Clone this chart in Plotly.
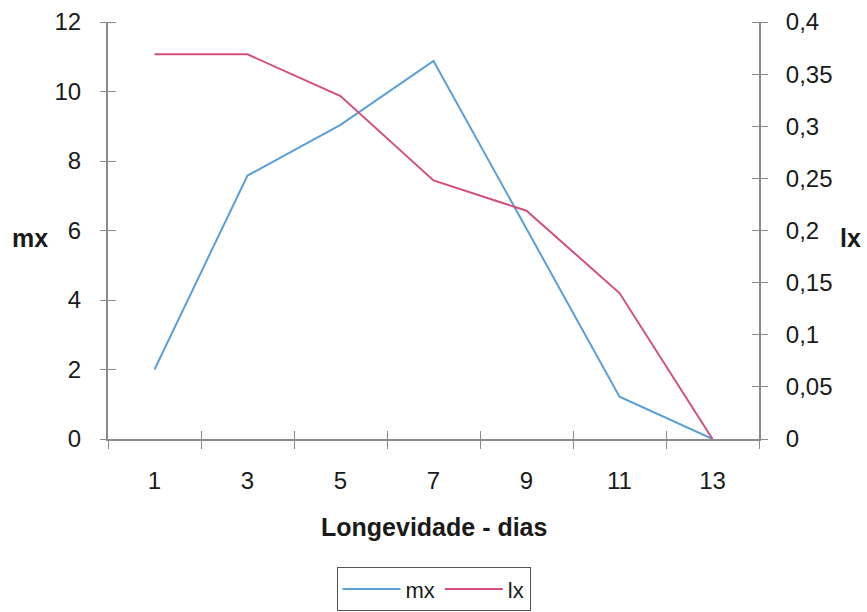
import plotly.graph_objects as go

dias = ["1", "3", "5", "7", "9", "11", "13"]
mx = [2.0, 7.58, 9.04, 10.88, 6.05, 1.22, 0.0]
lx = [0.369, 0.369, 0.329, 0.248, 0.219, 0.140, 0.0]

blue = "#5a9fd8"
red = "#d4507c"
axc = "#8a8a8a"
font = "Liberation Sans, Arial, sans-serif"

PLOT_W = 867 - 108 - 108
half = 8 / PLOT_W  # half tick length in paper units (ticks cross the axis)

fig = go.Figure()
fig.add_trace(go.Scatter(x=dias, y=mx, mode="lines", name="mx",
                         line=dict(color=blue, width=2), xaxis="x", yaxis="y"))
fig.add_trace(go.Scatter(x=dias, y=lx, mode="lines", name="lx",
                         line=dict(color=red, width=2), xaxis="x", yaxis="y2"))
# invisible traces to activate the helper axes
fig.add_trace(go.Scatter(x=dias, y=mx, mode="lines", line=dict(width=0), opacity=0,
                         showlegend=False, hoverinfo="skip", xaxis="x2", yaxis="y"))
fig.add_trace(go.Scatter(x=dias, y=mx, mode="lines", line=dict(width=0), opacity=0,
                         showlegend=False, hoverinfo="skip", xaxis="x", yaxis="y3"))
fig.add_trace(go.Scatter(x=dias, y=lx, mode="lines", line=dict(width=0), opacity=0,
                         showlegend=False, hoverinfo="skip", xaxis="x", yaxis="y4"))

common_x = dict(type="category", categoryorder="array", categoryarray=dias,
                range=[-0.5, 6.5], tickson="boundaries", showgrid=False, zeroline=False,
                domain=[0, 1], automargin=False)
tick_font = dict(size=24, color="#1a1a1a")
fig.update_layout(
    width=867, height=612,
    paper_bgcolor="white", plot_bgcolor="white",
    separators=",.",
    font=dict(family=font, size=24, color="#1a1a1a"),
    margin=dict(l=108, r=108, t=22, b=173, autoexpand=False),
    showlegend=True,
    legend=dict(orientation="h", x=0.5, xanchor="center", y=-0.36, yanchor="middle",
                bordercolor="#555", borderwidth=1, font=dict(size=22),
                tracegroupgap=0, itemwidth=58),
    xaxis=dict(**common_x, showline=True, linecolor=axc, linewidth=1.5,
               ticks="outside", ticklen=8, tickcolor=axc, tickfont=tick_font,
               ticklabelstandoff=19),
    xaxis2=dict(**common_x, overlaying="x", anchor="y", showline=False,
                ticks="inside", ticklen=8, tickcolor=axc, showticklabels=False),
    # tick-bearing y axes, shifted so that 16px ticks straddle the axis line
    yaxis=dict(range=[0, 12], dtick=2, showgrid=False, zeroline=False, automargin=False,
               showline=False, tickfont=tick_font,
               ticks="outside", ticklen=16, tickcolor=axc,
               anchor="free", position=half, ticklabelstandoff=14),
    yaxis2=dict(range=[0, 0.4], dtick=0.05, showgrid=False, zeroline=False,
                overlaying="y", side="right", anchor="free", position=1 - half,
                automargin=False, showline=False, tickfont=tick_font,
                ticks="outside", ticklen=16, tickcolor=axc, ticklabelstandoff=13),
    # axis lines
    yaxis3=dict(range=[0, 12], overlaying="y", side="left", anchor="x",
                showgrid=False, zeroline=False, automargin=False,
                showline=True, linecolor=axc, linewidth=1.5,
                ticks="", showticklabels=False),
    yaxis4=dict(range=[0, 0.4], overlaying="y", side="right", anchor="x",
                showgrid=False, zeroline=False, automargin=False,
                showline=True, linecolor=axc, linewidth=1.5,
                ticks="", showticklabels=False),
)

fig.add_annotation(text="<b>Longevidade - dias</b>", xref="paper", yref="paper",
                   x=0.5, y=-0.211, showarrow=False, font=dict(size=25),
                   xanchor="center", yanchor="middle")
fig.add_annotation(text="<b>mx</b>", xref="paper", yref="paper", x=-0.12, y=0.482,
                   showarrow=False, font=dict(size=25), xanchor="center", yanchor="middle")
fig.add_annotation(text="<b>lx</b>", xref="paper", yref="paper", x=1.14, y=0.482,
                   showarrow=False, font=dict(size=25), xanchor="center", yanchor="middle")

fig.write_html("out.html", config={"displayModeBar": False},
               post_script="document.body.style.margin='0';")
